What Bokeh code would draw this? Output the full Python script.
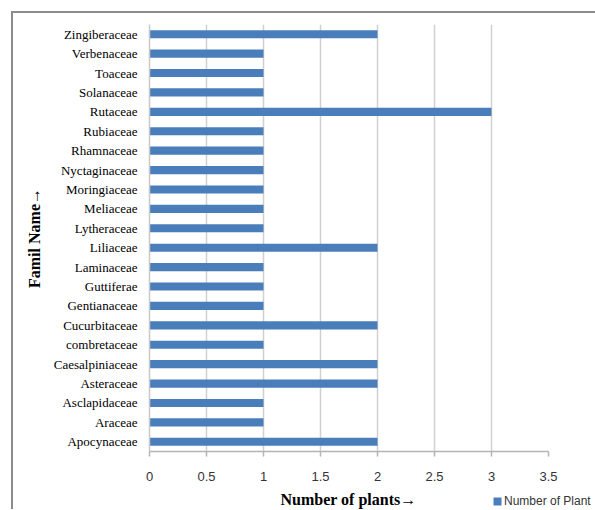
from bokeh.plotting import figure
from bokeh.layouts import column
from bokeh.models import (FactorRange, Range1d, FixedTicker, NumeralTickFormatter, Legend,
                          LegendItem, Label)
from bokeh.embed import file_html
from bokeh.resources import INLINE

families = ["Apocynaceae", "Araceae", "Asclapidaceae", "Asteraceae", "Caesalpiniaceae",
            "combretaceae", "Cucurbitaceae", "Gentianaceae", "Guttiferae", "Laminaceae",
            "Liliaceae", "Lytheraceae", "Meliaceae", "Moringiaceae", "Nyctaginaceae",
            "Rhamnaceae", "Rubiaceae", "Rutaceae", "Solanaceae", "Toaceae",
            "Verbenaceae", "Zingiberaceae"]
plants = [2, 1, 1, 2, 2, 1, 2, 1, 1, 1, 2, 1, 1, 1, 1, 1, 1, 3, 1, 1, 1, 2]
x_ticks = [0, 0.5, 1, 1.5, 2, 2.5, 3, 3.5]
series_name = "Number of Plant"
x_title = "Number of plants\u2192"
y_title = "Famil Name\u2192"
bar_color = "#4a7ebb"

p = figure(width=582, height=474, y_range=FactorRange(*families), x_range=Range1d(0, 3.5),
           output_backend="svg", toolbar_location=None,
           min_border_left=136, min_border_right=47, min_border_top=11, min_border_bottom=36)
p.outline_line_color = None

r = p.hbar(y=families, right=plants, left=0, height=0.42, fill_color=bar_color, line_color=None)

p.ygrid.grid_line_color = None
p.xgrid.grid_line_color = "#d0d0d0"
p.xgrid.grid_line_width = 1.5

p.xaxis.ticker = FixedTicker(ticks=x_ticks)
p.xaxis.formatter = NumeralTickFormatter(format="0.[0]")
p.xaxis.axis_line_color = "#b4b4b4"
p.xaxis.axis_line_width = 1.5
p.xaxis.major_tick_line_color = "#b4b4b4"
p.xaxis.major_tick_line_width = 1.5
p.xaxis.major_tick_out = 5
p.xaxis.major_tick_in = 0
p.xaxis.minor_tick_line_color = None
p.xaxis.major_label_text_font = "Liberation Sans"
p.xaxis.major_label_text_font_size = "13px"
p.xaxis.major_label_text_color = "#333333"
p.xaxis.major_label_standoff = 15

p.yaxis.axis_line_color = "#c8c8c8"
p.yaxis.axis_line_width = 1.5
p.yaxis.major_tick_line_color = None
p.yaxis.major_tick_out = 0
p.yaxis.major_tick_in = 0
p.yaxis.minor_tick_line_color = None
p.yaxis.major_label_text_font = "Liberation Serif"
p.yaxis.major_label_text_font_size = "13px"
p.yaxis.major_label_text_color = "#000000"
p.yaxis.major_label_standoff = 12
p.yaxis.axis_label = y_title
p.yaxis.axis_label_text_font = "Liberation Serif"
p.yaxis.axis_label_text_font_style = "bold"
p.yaxis.axis_label_text_font_size = "16px"
p.yaxis.axis_label_text_color = "#000000"
p.yaxis.axis_label_standoff = 8

# bottom strip: x-axis title and legend on one row
p2 = figure(width=582, height=22, x_axis_type=None, y_axis_type=None,
            x_range=Range1d(100, 101), y_range=Range1d(100, 101),
            output_backend="svg", toolbar_location=None, min_border=0)
p2.outline_line_color = None
p2.grid.visible = False

# screen offsets depend on whether the strip's frame is aligned with the chart frame
try:
    p.frame_align = False
    p2.frame_align = False
    title_x, legend_x = 335, 479
except Exception:
    title_x, legend_x = 199, 343

# same series in the strip, entirely outside its visible ranges: only its legend swatch shows
r2 = p2.hbar(y=list(range(len(plants))), right=plants, left=0, height=0.42,
             fill_color=bar_color, line_color=None)

p2.add_layout(Label(x=title_x, y=10, x_units="screen", y_units="screen", text=x_title,
                    text_align="center", text_baseline="middle",
                    text_font="Liberation Serif", text_font_style="bold",
                    text_font_size="16px", text_color="#000000"))

legend = Legend(items=[LegendItem(label=series_name, renderers=[r2])], location=(legend_x, 1),
                glyph_width=10, glyph_height=10, label_height=12, label_standoff=2,
                padding=0, margin=0, spacing=0, border_line_color=None,
                background_fill_alpha=0, label_text_font="Liberation Sans",
                label_text_font_size="12px", label_text_color="#333333")
p2.add_layout(legend)

layout = column(p, p2, spacing=0,
                styles={"border-left": "2px solid #8c8c8c", "border-top": "2px solid #8c8c8c",
                        "margin-left": "11px", "margin-top": "11px"})

open("out.html", "w").write(file_html(layout, INLINE))
